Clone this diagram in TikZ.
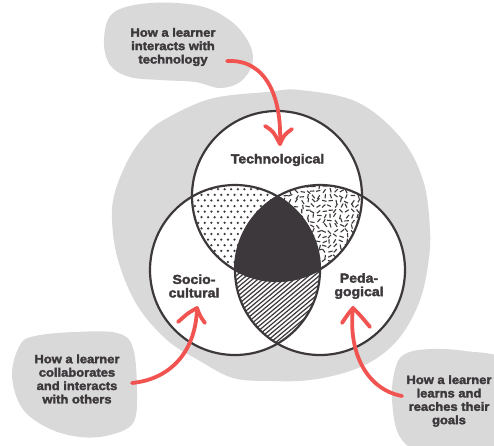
\documentclass[tikz,border=0pt]{standalone}
\usepackage{fontspec}
\setmainfont{Liberation Sans}[FakeStretch=1.08,FakeBold=2.5]
\definecolor{blobgray}{RGB}{217,217,217}
\definecolor{ink}{RGB}{60,56,59}
\definecolor{arrowred}{RGB}{241,84,80}
\begin{document}
\begin{tikzpicture}[x=1pt,y=-1pt,
  blob/.style={fill=blobgray,draw=none},
  ring/.style={draw=ink,line width=2.2pt},
  redarrow/.style={draw=arrowred,line width=3.8pt,line cap=round,line join=round},
  lbl/.style={text=ink,align=center,inner sep=0pt,font=\bfseries\fontsize{13}{13.5}\selectfont},
  blobtext/.style={text=ink,align=center,inner sep=0pt,font=\bfseries\fontsize{12}{13.4}\selectfont},
  hatch/.style={draw=ink,line width=1.2pt},
  dashmark/.style={draw=ink,line width=1.1pt}]
\useasboundingbox (0,0) rectangle (494,445);
\fill[white] (0,0) rectangle (494,445);

% background blobs
\path[blob] plot[smooth cycle,tension=0.6] coordinates {
 (162,121) (210,99) (267,92) (300,90) (357,102) (400,137) (423,180) (430,230)
 (428,265) (420,300) (403,333) (380,356) (350,371) (310,380) (270,381) (233,378)
 (200,361) (167,340) (137,305) (118,260) (112,220) (115,192) (128,160) (143,138)};
\path[blob] plot[smooth cycle,tension=0.6] coordinates {
 (113,13) (150,3) (200,6) (232,22) (250,45) (252,65) (240,82) (220,88)
 (195,82) (160,80) (130,77) (110,65) (104,40)};
\path[blob] plot[smooth cycle,tension=0.6] coordinates {
 (20,345) (35,336) (75,332) (117,333) (133,348) (137,393) (133,423) (110,435)
 (80,437) (48,428) (22,408) (12,375)};
\path[blob] plot[smooth cycle,tension=0.6] coordinates {
 (392,400) (396,366) (407,353) (432,349) (465,351) (505,360) (515,400)
 (510,460) (440,460) (402,440)};

% circle centres
\coordinate (T) at (277,196);
\coordinate (L) at (235,270);
\coordinate (R) at (320,270);

\fill[white] (T) circle (85pt);
\fill[white] (L) circle (85pt);
\fill[white] (R) circle (85pt);

% dots: top & left
\begin{scope}
\clip (T) circle (85pt);
\clip (L) circle (85pt);
\foreach \j in {0,...,18} {
  \pgfmathsetmacro\off{mod(\j,2)*3.3}
  \foreach \i in {0,...,15} {
    \pgfmathsetmacro\px{185+\i*6.6+\off}
    \pgfmathsetmacro\py{178+\j*5.6}
    \fill[ink] (\px,\py) circle (1.25pt);
  }
}
\end{scope}

% random dashes: top & right
\begin{scope}
\clip (T) circle (85pt);
\clip (R) circle (85pt);
\pgfmathsetseed{42}
\foreach \i in {0,...,16} {
  \foreach \j in {0,...,19} {
    \pgfmathsetmacro\px{274+\i*5.6+rand*1.2}
    \pgfmathsetmacro\py{176+\j*5.0+rand*1.2}
    \pgfmathsetmacro\pa{rnd*180}
    \draw[dashmark] (\px,\py) +(\pa:2.2) -- +(\pa+180:2.2);
  }
}
\end{scope}

% hatch: left & right
\begin{scope}
\clip (L) circle (85pt);
\clip (R) circle (85pt);
\foreach \k in {0,...,60} {
  \pgfmathsetmacro\px{40+\k*5.2}
  \draw[hatch] (\px,370) -- ++(200,-167);
}
\end{scope}

% centre
\begin{scope}
\clip (T) circle (85pt);
\clip (L) circle (85pt);
\fill[ink] (R) circle (85pt);
\end{scope}

% outlines
\draw[ring] (T) circle (85pt);
\draw[ring] (L) circle (85pt);
\draw[ring] (R) circle (85pt);

% labels
\node[lbl] (tech) at (277.5,160) {Technological};
\node[lbl] (socio) at (194,286) {Socio-\\cultural};
\node[lbl] (peda) at (359,286) {Peda-\\gogical};

\node[blobtext] (qtech) at (173,47) {How a learner\\interacts with\\technology};
\node[blobtext] (qsocio) at (77,379) {How a learner\\collaborates\\and interacts\\with others};
\node[blobtext] (qpeda) at (449,401) {How a learner\\learns and\\reaches their\\goals};

% arrows
\coordinate (a1s) at (227,61);
\coordinate (a1t) at (280,144);
\draw[redarrow] (a1s) .. controls (265,59) and (282,95) .. (a1t);
\draw[redarrow] (265,126) .. controls (273,131) .. (a1t) .. controls (284,135) .. (292,129);

\coordinate (a2s) at (132,383);
\coordinate (a2t) at (197,308);
\draw[redarrow] (a2s) .. controls (172,379) and (196,350) .. (a2t);
\draw[redarrow] (178,322) .. controls (188,313) .. (a2t) .. controls (200,316) .. (205,323);

\coordinate (a3s) at (402,396);
\coordinate (a3t) at (353,308);
\draw[redarrow] (a3s) .. controls (365,389) and (348,350) .. (a3t);
\draw[redarrow] (342,323) .. controls (348,314) .. (a3t) .. controls (360,315) .. (370,327);
\end{tikzpicture}
\end{document}
